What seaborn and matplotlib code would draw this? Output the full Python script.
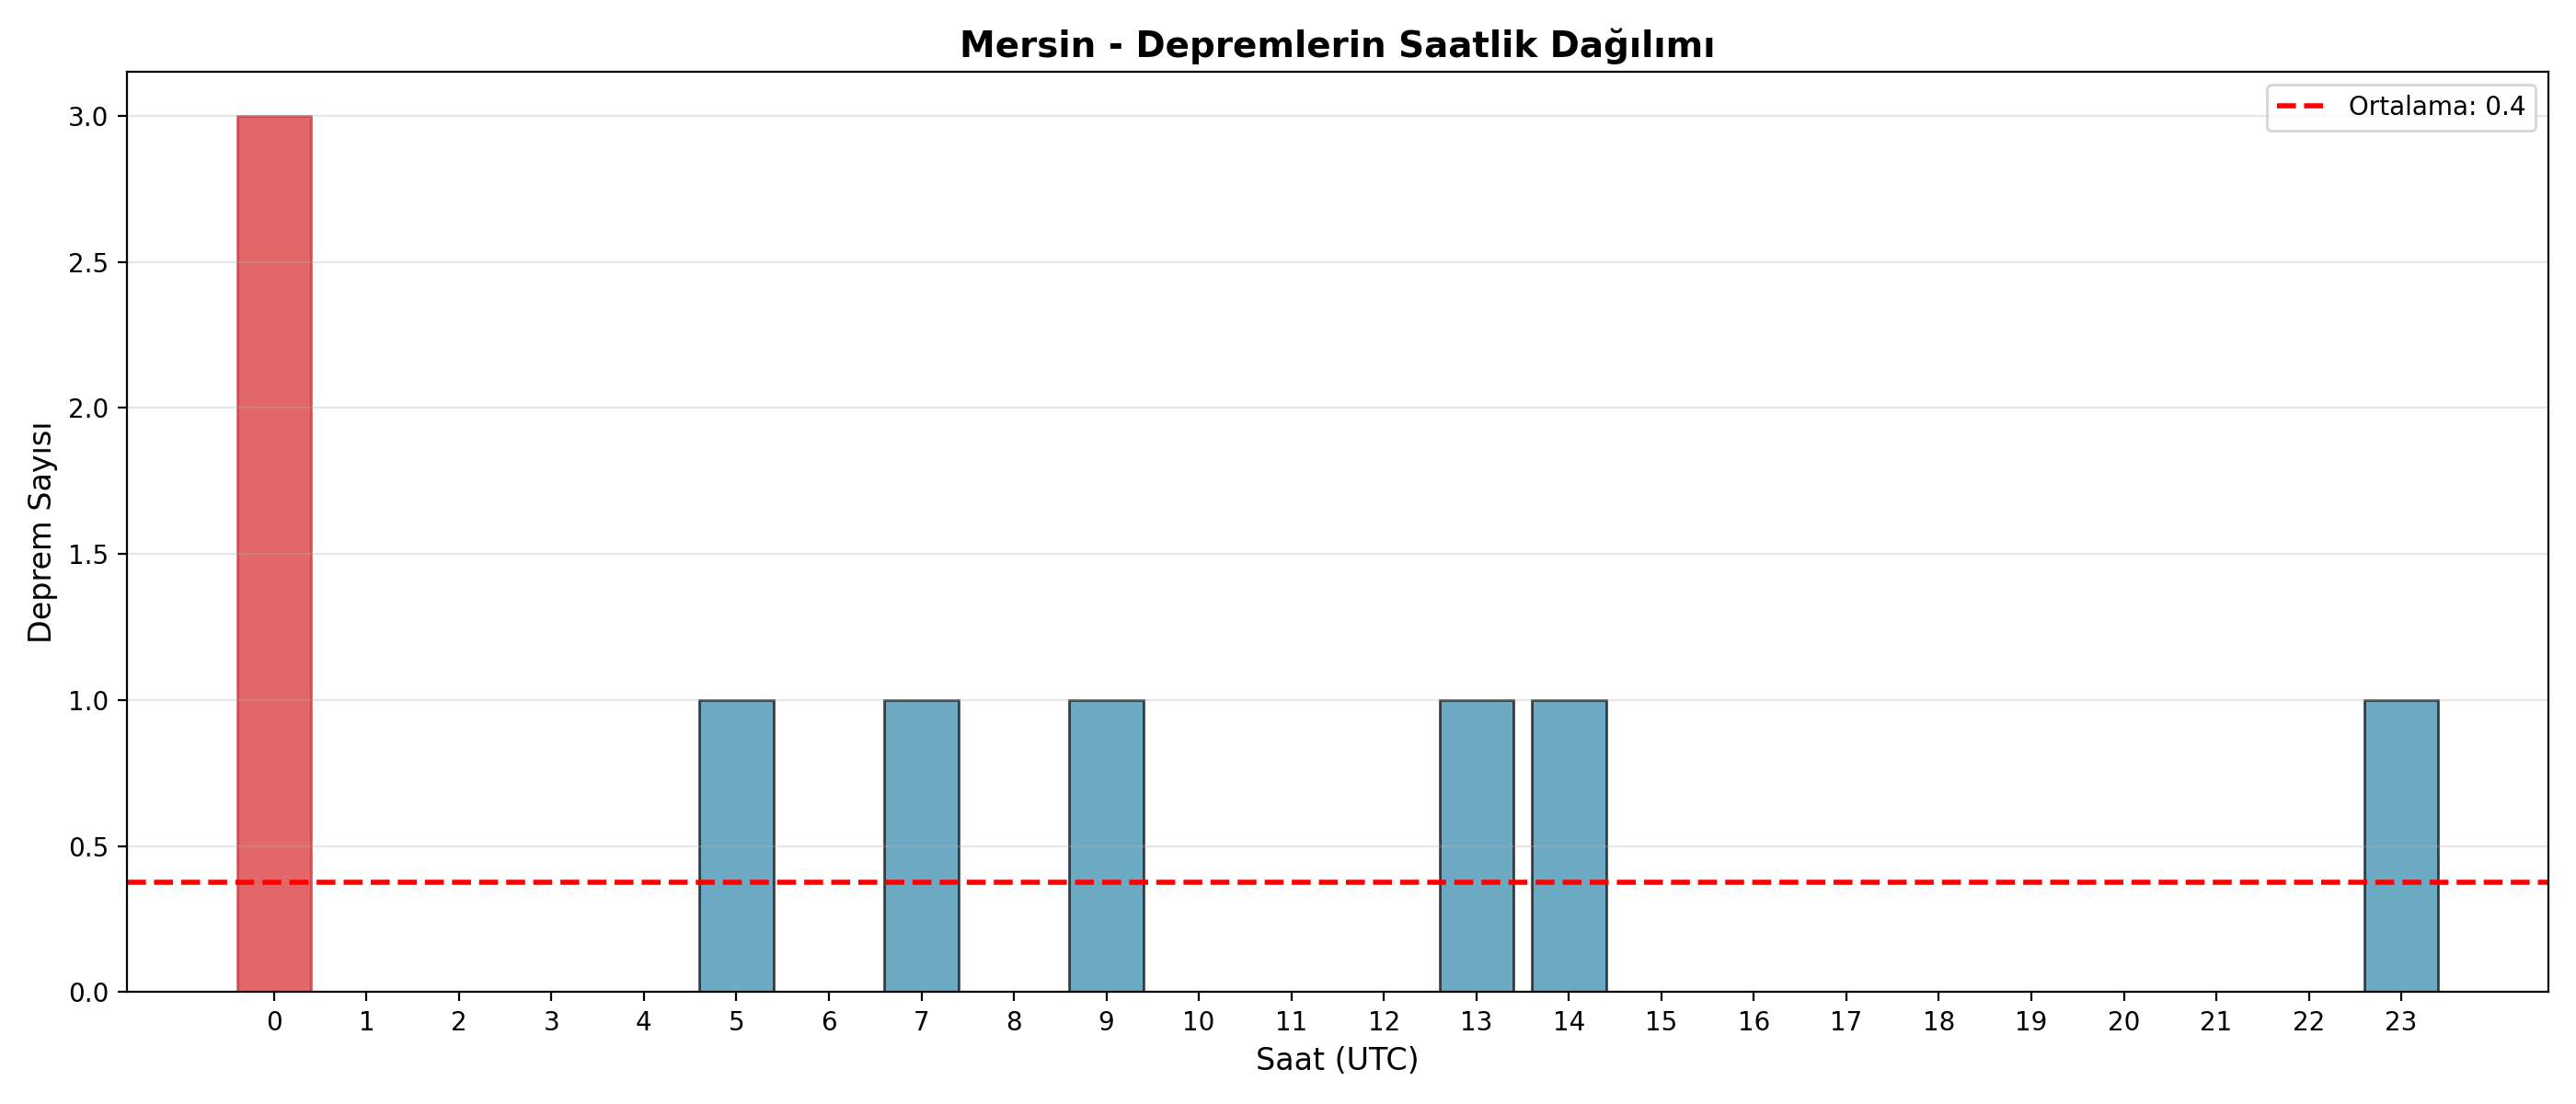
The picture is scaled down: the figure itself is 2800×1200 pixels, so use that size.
import numpy as np
import pandas as pd
import matplotlib
matplotlib.use("Agg")
import matplotlib.pyplot as plt
import seaborn as sns

# Saatlik deprem sayilari (Mersin)
hours = list(range(24))
counts = [3, 0, 0, 0, 0, 1, 0, 1, 0, 1, 0, 0, 0, 1, 1, 0, 0, 0, 0, 0, 0, 0, 0, 1]

df = pd.DataFrame({"Saat": hours, "Sayi": counts})
mean_val = df["Sayi"].mean()

base_color = "#2E86AB"
peak_color = "#d62728"
peak = df["Sayi"].max()
palette = [peak_color if c == peak else base_color for c in df["Sayi"]]

fig, ax = plt.subplots(figsize=(14, 6), dpi=200)

sns.barplot(data=df, x="Saat", y="Sayi", hue="Saat", palette=palette,
            legend=False, saturation=1, alpha=0.7, width=0.8, ax=ax)

# kenar renkleri
for patch, c in zip(ax.patches, palette):
    if c == peak_color:
        patch.set_edgecolor(peak_color)
    else:
        patch.set_edgecolor("black")
    patch.set_linewidth(1)

ax.axhline(mean_val, color="red", linestyle="--", linewidth=2,
           label=f"Ortalama: {mean_val:.1f}")

# matplotlib varsayilan kenar boslugu
pad = 0.05 * (len(hours) - 1 + 0.8)
ax.set_xlim(-0.4 - pad, len(hours) - 1 + 0.4 + pad)
ax.set_xticks(range(len(hours)))
ax.set_xticklabels([str(h) for h in hours])

ax.set_title("Mersin - Depremlerin Saatlik Dağılımı", fontsize=14, fontweight="bold")
ax.set_xlabel("Saat (UTC)", fontsize=12)
ax.set_ylabel("Deprem Sayısı", fontsize=12)
ax.grid(axis="y", alpha=0.3)
ax.legend(loc="upper right")

plt.tight_layout()
plt.savefig("out.png", dpi=200)
